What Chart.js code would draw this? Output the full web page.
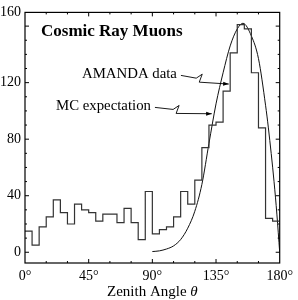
<!DOCTYPE html>
<html>
<head>
<meta charset="utf-8">
<script src="https://cdn.jsdelivr.net/npm/chart.js@4/dist/chart.umd.min.js"></script>
<style>
  html, body { margin: 0; padding: 0; background: #fff; }
  #wrap { width: 298px; height: 300px; }
</style>
</head>
<body>
<div id="wrap"><canvas id="muonChart" width="298" height="300"></canvas></div>
<script>
// histogram bins of 5 degrees (left edges + final edge)
const binEdges = [0, 5, 10, 15, 20, 25, 30, 35, 40, 45, 50, 55, 60, 65, 70, 75, 80, 85,
                  90, 95, 100, 105, 110, 115, 120, 125, 130, 135, 140, 145, 150, 155, 160, 165, 170, 175, 180];
const amandaCounts = [15, 5, 18, 25, 37, 28, 20, 34, 30, 28, 22, 27, 27, 21, 31, 21, 9, 43,
                      13, 16, 18, 25, 43, 34, 51, 74, 90, 92, 114, 141, 161, 158, 127, 88, 24, 22];

// MC expectation curve
const mcAngles = [90, 95, 100, 105, 110, 115, 120, 125, 130, 135, 140, 145, 150, 154, 160, 165, 170, 172, 176, 178, 180];
const mcCounts = [0.5, 1, 2.3, 4.5, 9, 17, 29, 48, 77, 105, 127, 146, 158, 162, 153, 137, 104, 88, 50, 27, 0];

// axis ticks (the original figure puts the "160" label at the top edge of the frame)
const xTickValues = [0, 45, 90, 135, 180];
const yTickValues = [0, 40, 80, 120, 169.7];
const yTickLabels = ['0', '40', '80', '120', '160'];

const serif = '"Liberation Serif", "DejaVu Serif", serif';

const histData = binEdges.map((x, i) => ({ x: x, y: amandaCounts[Math.min(i, amandaCounts.length - 1)] }));
const mcData = mcAngles.map((x, i) => ({ x: x, y: mcCounts[i] }));

function arrow(ctx, x0, y0, x1, y1) {
    const dx = x1 - x0, dy = y1 - y0;
    const bx = x0 + dx * 0.32, by = y0 + dy * 0.32;
    ctx.beginPath();
    ctx.moveTo(x0, y0);
    ctx.lineTo(bx, by);
    ctx.lineTo(bx + 6, by - 4);
    ctx.lineTo(bx + 3, by + 4);
    ctx.lineTo(x1, y1);
    ctx.stroke();
    const ang = Math.atan2(y1 - (by + 4), x1 - (bx + 3));
    ctx.beginPath();
    ctx.moveTo(x1, y1);
    ctx.lineTo(x1 - 6 * Math.cos(ang - 0.35), y1 - 6 * Math.sin(ang - 0.35));
    ctx.lineTo(x1 - 6 * Math.cos(ang + 0.35), y1 - 6 * Math.sin(ang + 0.35));
    ctx.closePath();
    ctx.fill();
}

const framePlugin = {
    id: 'frame',
    afterDraw(chart) {
        const ctx = chart.ctx;
        const a = chart.chartArea;
        const xs = chart.scales.x, ys = chart.scales.y;
        ctx.save();
        ctx.strokeStyle = '#000';
        ctx.fillStyle = '#000';
        ctx.lineWidth = 1.2;
        ctx.strokeRect(a.left, a.top, a.right - a.left, a.bottom - a.top);

        // inward ticks
        ctx.lineWidth = 1;
        ctx.beginPath();
        for (let v = 0; v <= 160; v += 10) {
            const y = ys.getPixelForValue(v);
            const len = v % 40 === 0 ? 4 : 2;
            ctx.moveTo(a.left, y); ctx.lineTo(a.left + len, y);
            ctx.moveTo(a.right, y); ctx.lineTo(a.right - len, y);
        }
        for (let v = 15; v < 180; v += 15) {
            const x = xs.getPixelForValue(v);
            const len = v % 45 === 0 ? 4 : 2;
            ctx.moveTo(x, a.bottom); ctx.lineTo(x, a.bottom - len);
            ctx.moveTo(x, a.top); ctx.lineTo(x, a.top + len);
        }
        ctx.stroke();

        // labels
        ctx.textBaseline = 'middle';
        ctx.textAlign = 'left';
        ctx.font = 'bold 17px ' + serif;
        ctx.fillText('Cosmic Ray Muons', a.left + 16, a.top + 19);
        ctx.font = '14.8px ' + serif;
        ctx.fillText('AMANDA data', a.left + 57, a.top + 62);
        ctx.fillText('MC expectation', a.left + 31, a.top + 94);
        const w1 = ctx.measureText('AMANDA data').width;
        const w2 = ctx.measureText('MC expectation').width;

        // arrows pointing at the curves
        ctx.lineWidth = 0.9;
        arrow(ctx, a.left + 57 + w1 + 4, a.top + 63,
              xs.getPixelForValue(144), ys.getPixelForValue(119));
        arrow(ctx, a.left + 31 + w2 + 4, a.top + 95,
              xs.getPixelForValue(132), ys.getPixelForValue(98));

        // axis title with italic theta
        const t = 'Zenith Angle ';
        ctx.font = 'italic 15px ' + serif;
        const wth = ctx.measureText('θ').width;
        ctx.font = '15px ' + serif;
        const wt = ctx.measureText(t).width;
        const cx = (a.left + a.right) / 2;
        const x0 = cx - (wt + wth) / 2;
        ctx.fillText(t, x0, 292);
        ctx.font = 'italic 15px ' + serif;
        ctx.fillText('θ', x0 + wt, 292);
        ctx.restore();
    }
};

const ctx = document.getElementById('muonChart').getContext('2d');
const chart = new Chart(ctx, {
    type: 'line',
    data: {
        datasets: [
            {
                label: 'AMANDA data',
                data: histData,
                stepped: true,
                borderColor: '#333',
                borderWidth: 1.2,
                pointRadius: 0,
                fill: false
            },
            {
                label: 'MC expectation',
                data: mcData,
                borderColor: '#111',
                borderWidth: 1,
                pointRadius: 0,
                cubicInterpolationMode: 'monotone',
                fill: false
            }
        ]
    },
    options: {
        responsive: false,
        animation: false,
        layout: { padding: { top: 6, right: 12, left: 0, bottom: 0 } },
        plugins: {
            legend: { display: false },
            tooltip: { enabled: false }
        },
        scales: {
            x: {
                type: 'linear',
                min: 0,
                max: 180,
                grid: { display: false, drawTicks: false },
                border: { display: false },
                afterBuildTicks: scale => { scale.ticks = xTickValues.map(v => ({ value: v })); },
                afterFit: scale => { scale.height = 37; },
                ticks: {
                    padding: 5,
                    maxRotation: 0,
                    color: '#000',
                    font: { family: serif, size: 14 },
                    callback: v => v + '°'
                }
            },
            y: {
                type: 'linear',
                min: -7.6,
                max: 169.7,
                grid: { display: false, drawTicks: false },
                border: { display: false },
                afterBuildTicks: scale => { scale.ticks = yTickValues.map(v => ({ value: v })); },
                afterFit: scale => { scale.width = 25; },
                ticks: {
                    padding: 4,
                    color: '#000',
                    font: { family: serif, size: 14 },
                    callback: (v, i) => yTickLabels[i]
                }
            }
        }
    },
    plugins: [framePlugin]
});
</script>
</body>
</html>
